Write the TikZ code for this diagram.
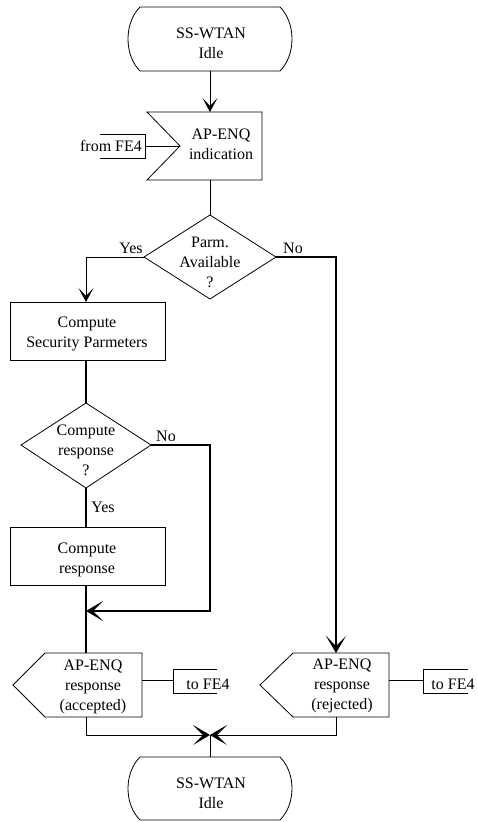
\documentclass[tikz,border=0pt]{standalone}
\usepackage{fontspec}
\setmainfont{Liberation Serif}
\usetikzlibrary{arrows.meta}
\begin{document}
\begin{tikzpicture}[x=1pt,y=-1pt,
  every node/.style={font=\fontsize{16}{20}\selectfont, inner sep=0pt, align=center},
  shp/.style={draw=black, line width=0.8pt, line join=miter},
  conn/.style={draw=black, line width=0.8pt},
  connmid/.style={draw=black, line width=1.2pt},
  connbold/.style={draw=black, line width=1.7pt},
  arr/.style={-{Stealth[length=14pt,width=15pt,inset=8pt]}},
  arrbig/.style={-{Stealth[length=17pt,width=20pt,inset=10pt]}}]
\useasboundingbox (0,0) rectangle (477,822);

% top terminator
\draw[shp] (140,7) -- (280,7) .. controls (296,23) and (296,55) .. (280,71)
  -- (140,71) .. controls (124,55) and (124,23) .. (140,7) -- cycle;
\node (idle1) at (211,43) {SS-WTAN\\Idle};
\coordinate (idle1s) at (210,71);

% input signal
\draw[shp] (147,112) -- (262,112) -- (262,180) -- (147,180) -- (180,146) -- cycle;
\node (ind) at (221,144) {AP-ENQ\\indication};
\coordinate (indn) at (210,112);
\coordinate (inds) at (210,180);
\coordinate (indw) at (180,146);

% from FE4
\draw[shp] (100,134) -- (145,134) -- (145,158) -- (100,158);
\node (from) at (111,146) {from FE4};
\coordinate (frome) at (145,146);

% diamond 1
\draw[shp] (210,215) -- (276,257) -- (210,299) -- (144,257) -- cycle;
\node (d1) at (210,262) {Parm.\\Available\\?};
\coordinate (d1n) at (210,215);
\coordinate (d1w) at (144,257);
\coordinate (d1e) at (276,257);

% box 1
\draw[shp] (10,302) rectangle (165,360);
\node (box1) at (87,334) {Compute\\Security Parmeters};
\coordinate (box1n) at (86,302);
\coordinate (box1s) at (86,360);

% diamond 2
\draw[shp] (86,403) -- (151,445) -- (86,488) -- (21,445) -- cycle;
\node (d2) at (86,450) {Compute\\response\\?};
\coordinate (d2n) at (86,403);
\coordinate (d2s) at (86,488);
\coordinate (d2e) at (151,445);
\coordinate (loopc) at (210,445);

% box 2
\draw[shp] (10,527) rectangle (165,585);
\node (box2) at (87,560) {Compute\\response};
\coordinate (box2n) at (86,527);
\coordinate (box2s) at (86,585);
\coordinate (merge) at (86,611);

% output accepted
\draw[shp] (45,653) -- (142,653) -- (142,717) -- (45,717) -- (13,685) -- cycle;
\node (acc) at (93,687) {AP-ENQ\\response\\(accepted)};
\coordinate (accn) at (86,653);
\coordinate (accs) at (86,717);
\coordinate (acce) at (142,680);
\draw[shp] (217,669) -- (173,669) -- (173,693) -- (217,693);
\node (toa) at (208,684) {to FE4};
\coordinate (toaw) at (173,680);

% output rejected
\draw[shp] (293,653) -- (389,653) -- (389,717) -- (293,717) -- (260,685) -- cycle;
\node (rej) at (342,686) {AP-ENQ\\response\\(rejected)};
\coordinate (rejn) at (336,653);
\coordinate (rejs) at (336,717);
\coordinate (reje) at (389,680);
\draw[shp] (468,669) -- (423,669) -- (423,693) -- (468,693);
\node (tor) at (453,684) {to FE4};
\coordinate (torw) at (423,680);

% bottom terminator
\draw[shp] (140,757) -- (280,757) .. controls (296,773) and (296,804) .. (280,820)
  -- (140,820) .. controls (124,804) and (124,773) .. (140,757) -- cycle;
\node (idle2) at (211,793) {SS-WTAN\\Idle};
\coordinate (idle2n) at (210,757);
\coordinate (join) at (210,735);

% connectors
\draw[conn,arr] (idle1s) -- (indn);
\draw[conn] (frome) -- (indw);
\draw[conn] (inds) -- (d1n);
\draw[conn,arr] (d1w) -| (box1n);
\draw[connmid,arrbig] (d1e) -| (rejn);
\draw[connbold] (box1s) -- (d2n);
\draw[connmid] (d2s) -- (box2n);
\draw[connbold,arrbig] (d2e) -- (loopc) |- (merge);
\draw[connbold] (box2s) -- (accn);
\draw[conn] (acce) -- (toaw);
\draw[conn] (reje) -- (torw);
\draw[conn,arrbig] (accs) |- (join);
\draw[conn,arrbig] (rejs) |- (join);
\draw[conn] (join) -- (idle2n);

% labels
\node (yes1) at (131,248) {Yes};
\node (no1) at (293,248) {No};
\node (no2) at (166,436) {No};
\node (yes2) at (103,507) {Yes};
\end{tikzpicture}
\end{document}
